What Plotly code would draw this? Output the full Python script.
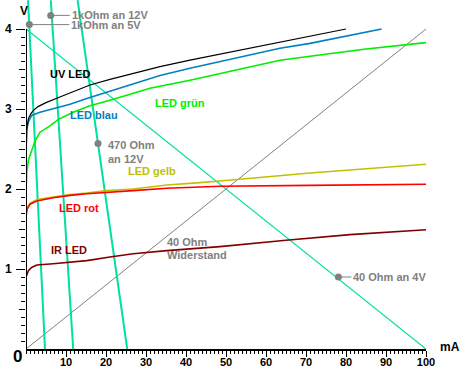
import plotly.graph_objects as go

# ---------------- data (I in mA, U in V) ----------------
uv_i = [0.05, 0.3, 0.6, 1.2, 1.8, 3, 5, 8, 11, 16, 21, 27, 33.5, 41, 50, 63.5, 71, 80]
uv_v = [2.71, 2.80, 2.88, 2.94, 2.98, 3.03, 3.08, 3.14, 3.20, 3.30, 3.37, 3.45, 3.53, 3.61, 3.70, 3.84, 3.91, 4.0]

blau_i = [0.1, 0.2, 0.3, 0.6, 1.4, 3.5, 6.8, 11, 15.2, 21, 33.5, 41, 63.5, 71, 88.9]
blau_v = [2.57, 2.70, 2.77, 2.84, 2.92, 2.96, 3.00, 3.06, 3.13, 3.22, 3.42, 3.51, 3.76, 3.82, 4.0]

gruen_i = [0.1, 0.2, 0.6, 1.4, 2.25, 3.5, 6, 8.1, 11.8, 16, 21, 31, 41, 50, 63.5, 71, 85, 100]
gruen_v = [2.07, 2.21, 2.36, 2.48, 2.60, 2.71, 2.79, 2.87, 2.96, 3.04, 3.11, 3.26, 3.36, 3.46, 3.61, 3.66, 3.75, 3.83]

gelb_i = [0, 0.3, 1, 2.7, 6.8, 11, 15.2, 20.2, 26.8, 35.2, 43.5, 48.5, 71, 100]
gelb_v = [1.70, 1.77, 1.82, 1.87, 1.90, 1.93, 1.95, 1.98, 2.00, 2.05, 2.08, 2.10, 2.20, 2.31]

rot_i = [0, 0.3, 1, 2.7, 6.8, 11, 15.2, 20.2, 26.8, 35.2, 43.5, 48.5, 71, 100]
rot_v = [1.65, 1.75, 1.81, 1.85, 1.89, 1.92, 1.94, 1.96, 1.98, 2.01, 2.03, 2.035, 2.045, 2.06]

ir_i = [0, 0.6, 1.4, 2.7, 6.8, 11, 15.2, 21, 26.8, 35.2, 48.5, 65, 81, 100]
ir_v = [0.90, 0.98, 1.02, 1.05, 1.065, 1.085, 1.105, 1.15, 1.19, 1.23, 1.28, 1.36, 1.43, 1.49]

# load lines (end points)
r1k5_i = [0.5, 4.75]
r1k5_v = [4.36, 0.0]
r1k12_i = [6.2, 11.8]
r1k12_v = [4.36, 0.0]
r470_i = [12.9, 25.3]
r470_v = [4.36, 0.0]
r40_4_i = [0, 100]
r40_4_v = [4.0, 0.0]
r40_i = [0, 100]
r40_v = [0.0, 4.0]

# marker dots
dot_i = [6.18, 0.83, 18.0, 78.1]
dot_v = [4.17, 4.055, 2.57, 0.90]

x_ticks = [10, 20, 30, 40, 50, 60, 70, 80, 90, 100]
y_ticks = [1, 2, 3, 4]
y_half_ticks = [0.5, 1.5, 2.5, 3.5]

# ---------------- styles ----------------
LOAD = "#00E0A0"
GRAY = "#808080"
FONT = "Liberation Sans"

fig = go.Figure()

def line(x, y, color, width):
    fig.add_trace(go.Scatter(x=x, y=y, mode="lines", line=dict(color=color, width=width),
                             hoverinfo="skip", showlegend=False))

line(r40_i, r40_v, GRAY, 1)
line(r1k5_i, r1k5_v, LOAD, 2)
line(r1k12_i, r1k12_v, LOAD, 2)
line(r470_i, r470_v, LOAD, 2)
line(r40_4_i, r40_4_v, LOAD, 1.2)

line(ir_i, ir_v, "#800000", 1.6)
line(gelb_i, gelb_v, "#C0C000", 1.6)
line(rot_i, rot_v, "#FF0000", 1.6)
line(gruen_i, gruen_v, "#00EE00", 1.6)
line(blau_i, blau_v, "#0080C0", 1.6)
line(uv_i, uv_v, "#000000", 1.2)

fig.add_trace(go.Scatter(x=dot_i, y=dot_v, mode="markers",
                         marker=dict(color=GRAY, size=7), hoverinfo="skip",
                         showlegend=False, cliponaxis=False))

# empty trace to carry the half-volt tick axis
fig.add_trace(go.Scatter(x=[], y=[], yaxis="y2", showlegend=False, hoverinfo="skip"))

def txt(x, y, s, color, size=11, xanchor="left", ref="data"):
    kw = {}
    if ref == "paper":
        kw = dict(xref="paper", yref="paper")
    fig.add_annotation(x=x, y=y, text=s, showarrow=False, xanchor=xanchor, yanchor="middle",
                       font=dict(family=FONT, size=size, color=color, weight="bold"), **kw)

def lead(x, y, s, ax):
    fig.add_annotation(x=x, y=y, text=s, showarrow=True, arrowhead=0, arrowwidth=1,
                       arrowcolor=GRAY, ax=ax, ay=0, xanchor="left", yanchor="middle",
                       standoff=0, startstandoff=0,
                       font=dict(family=FONT, size=11, color=GRAY, weight="bold"))

txt(5.5, 3.44, "UV LED", "#000000")
txt(10.5, 2.92, "LED blau", "#0080C0")
txt(31.75, 3.08, "LED grün", "#00EE00")
txt(24.9, 2.23, "LED gelb", "#C0C000")
txt(7.8, 1.76, "LED rot", "#FF0000")
txt(5.8, 1.24, "IR LED", "#800000")
txt(34.75, 1.34, "40 Ohm", GRAY)
txt(34.75, 1.18, "Widerstand", GRAY)
txt(20.0, 2.55, "470 Ohm", GRAY)
txt(20.0, 2.38, "an 12V", GRAY)
lead(dot_i[0], dot_v[0], "1kOhm an 12V", 19)
lead(dot_i[1], dot_v[1], "1kOhm an 5V", 40)
lead(dot_i[3], dot_v[3], "40 Ohm an 4V", 13)

# axis titles and origin label (outside the plot area -> paper coordinates)
txt(-0.005, 0.968, "V", "#000000", 12, "center", "paper")
txt(1.05875, 0.0043, "mA", "#000000", 12, "center", "paper")
txt(-0.0215, -0.0229, "0", "#000000", 17, "center", "paper")

# y axis line only up to 4 V
fig.add_shape(type="line", x0=0, x1=0, y0=0, y1=4, xref="x", yref="y",
              line=dict(color="black", width=2))

Y_RANGE = [0, 349 / 80]

fig.update_layout(
    width=464, height=382,
    margin=dict(l=26, r=38, t=0, b=33, autoexpand=False),
    paper_bgcolor="white", plot_bgcolor="white",
    showlegend=False,
    xaxis=dict(range=[0, 100], showgrid=False, zeroline=False, automargin=False,
               showline=True, linecolor="black", linewidth=2,
               ticks="outside", ticklen=6, tickwidth=1, tickcolor="black",
               tickvals=x_ticks, ticktext=[str(v) for v in x_ticks],
               tickfont=dict(family=FONT, size=11, color="black", weight="bold"),
               ticklabelstandoff=-4,
               minor=dict(dtick=1, tick0=0, ticks="outside", ticklen=3, tickcolor="black", tickwidth=1),
               fixedrange=True),
    yaxis=dict(range=Y_RANGE, showgrid=False, zeroline=False, showline=False,
               automargin=False,
               ticks="outside", ticklen=9, tickwidth=1, tickcolor="black",
               tickvals=y_ticks, ticktext=[str(v) for v in y_ticks],
               tickfont=dict(family=FONT, size=12, color="black", weight="bold"),
               ticklabelstandoff=2,
               minor=dict(tickmode="array", tickvals=[round(0.1 * k, 1) for k in range(1, 40)],
                          ticks="outside", ticklen=4, tickcolor="black", tickwidth=1),
               fixedrange=True),
    yaxis2=dict(range=Y_RANGE, overlaying="y", side="left", showgrid=False, zeroline=False,
                showline=False, automargin=False, showticklabels=False,
                ticks="outside", ticklen=6, tickwidth=1, tickcolor="black",
                tickvals=y_half_ticks, fixedrange=True),
)

fig.write_html("out.html",
               config={"displayModeBar": False},
               post_script="document.body.style.margin='0px';document.body.style.padding='0px';"
                           "document.body.style.overflow='hidden';")
